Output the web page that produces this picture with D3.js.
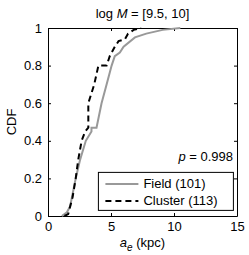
<!DOCTYPE html>
<meta charset="utf-8">
<script src="https://d3js.org/d3.v7.min.js"></script>
<style>
  body { margin: 0; background: #fff; }
  text { font-family: "Liberation Sans", Arial, sans-serif; }
</style>
<body>
<script>
// Set the dimensions of the canvas.
var margin = {top: 28, right: 12, bottom: 39, left: 48},
    width = 249 - margin.left - margin.right,
    height = 255 - margin.top - margin.bottom;

// CDF curves (a_e in kpc, cumulative fraction)
var fieldX   = [1.1, 1.5, 1.75, 1.9, 2.2, 2.55, 3.0, 3.45, 3.45, 3.85, 4.25, 4.65, 5.05, 5.3, 5.7, 6.0, 6.9, 7.8, 9.1, 10.5];
var fieldY   = [0, 0.02, 0.05, 0.1, 0.2, 0.3, 0.4, 0.45, 0.47, 0.47, 0.6, 0.7, 0.8, 0.85, 0.87, 0.9, 0.95, 0.97, 0.99, 1];
var clusterX = [1.3, 1.6, 1.95, 2.2, 2.4, 2.67, 2.95, 3.2, 3.2, 3.67, 4.0, 4.65, 4.9, 5.3, 5.6, 6.1, 6.35, 6.8, 7.4];
var clusterY = [0, 0.01, 0.1, 0.2, 0.3, 0.4, 0.45, 0.47, 0.6, 0.7, 0.8, 0.8, 0.85, 0.9, 0.93, 0.94, 0.97, 0.99, 1];

var xTicks = [0, 5, 10, 15];
var yTicks = [0, 0.2, 0.4, 0.6, 0.8, 1];

var svg = d3.select("body").append("svg")
    .attr("width", 249)
    .attr("height", 255)
  .append("g")
    .attr("transform", "translate(" + margin.left + "," + margin.top + ")");

var x = d3.scaleLinear().domain([0, 15]).range([0, width]);
var y = d3.scaleLinear().domain([0, 1]).range([height, 0]);

// Axes with inward ticks (box on all sides)
var fmt = function(d) { return d; };
var axB = svg.append("g").attr("transform", "translate(0," + height + ")")
    .call(d3.axisBottom(x).tickValues(xTicks).tickSizeInner(-3).tickSizeOuter(0).tickPadding(6).tickFormat(fmt));
var axL = svg.append("g")
    .call(d3.axisLeft(y).tickValues(yTicks).tickSizeInner(-3).tickSizeOuter(0).tickPadding(6).tickFormat(fmt));
var axT = svg.append("g")
    .call(d3.axisTop(x).tickValues(xTicks).tickSizeInner(-3).tickSizeOuter(0).tickFormat(""));
var axR = svg.append("g").attr("transform", "translate(" + width + ",0)")
    .call(d3.axisRight(y).tickValues(yTicks).tickSizeInner(-3).tickSizeOuter(0).tickFormat(""));
svg.selectAll(".domain").attr("stroke", "#000");
svg.selectAll(".tick line").attr("stroke", "#000");
svg.selectAll(".tick text").attr("font-size", "13px").attr("fill", "#000")
    .style("font-family", "Liberation Sans, Arial, sans-serif");

// Lines
var line = d3.line()
  .x(function(d) { return x(d[0]); })
  .y(function(d) { return y(d[1]); });

svg.append("path")
  .datum(d3.zip(fieldX, fieldY))
  .attr("d", line)
  .attr("fill", "none")
  .attr("stroke", "#999")
  .attr("stroke-width", 2);

svg.append("path")
  .datum(d3.zip(clusterX, clusterY))
  .attr("d", line)
  .attr("fill", "none")
  .attr("stroke", "#000")
  .attr("stroke-width", 2)
  .attr("stroke-dasharray", "6,4");

// Title
var title = svg.append("text")
  .attr("x", width / 2)
  .attr("y", -10)
  .attr("text-anchor", "middle")
  .attr("font-size", "13px");
title.append("tspan").text("log ");
title.append("tspan").attr("font-style", "italic").text("M");
title.append("tspan").text(" = [9.5, 10]");

// Y label
svg.append("text")
  .attr("transform", "translate(-32," + (height / 2) + ") rotate(-90)")
  .attr("text-anchor", "middle")
  .attr("font-size", "13px")
  .text("CDF");

// X label
var xl = svg.append("text")
  .attr("x", width / 2)
  .attr("y", height + 31)
  .attr("text-anchor", "middle")
  .attr("font-size", "13px");
xl.append("tspan").attr("font-style", "italic").text("a");
xl.append("tspan").attr("font-style", "italic").attr("font-size", "10px").attr("dy", 4).text("e");
xl.append("tspan").attr("dy", -4).text(" (kpc)");

// p value
var pt = svg.append("text")
  .attr("x", width - 4)
  .attr("y", y(0.29))
  .attr("text-anchor", "end")
  .attr("font-size", "13px");
pt.append("tspan").attr("font-style", "italic").text("p");
pt.append("tspan").text(" = 0.998");

// Legend
var leg = svg.append("g").attr("transform", "translate(" + (x(4.0)) + "," + (y(0.232)) + ")");
leg.append("rect")
  .attr("width", 135).attr("height", 38)
  .attr("fill", "#fff").attr("stroke", "#000");
var names = ["Field (101)", "Cluster (113)"];
names.forEach(function(n, i) {
  var ly = 11.5 + i * 17;
  leg.append("line")
    .attr("x1", 7).attr("x2", 40).attr("y1", ly).attr("y2", ly)
    .attr("stroke", i == 0 ? "#999" : "#000")
    .attr("stroke-width", 2)
    .attr("stroke-dasharray", i == 0 ? null : "6,4");
  leg.append("text")
    .attr("x", 45).attr("y", ly + 4.5)
    .attr("font-size", "13px")
    .text(n);
});
</script>
</body>
</html>
